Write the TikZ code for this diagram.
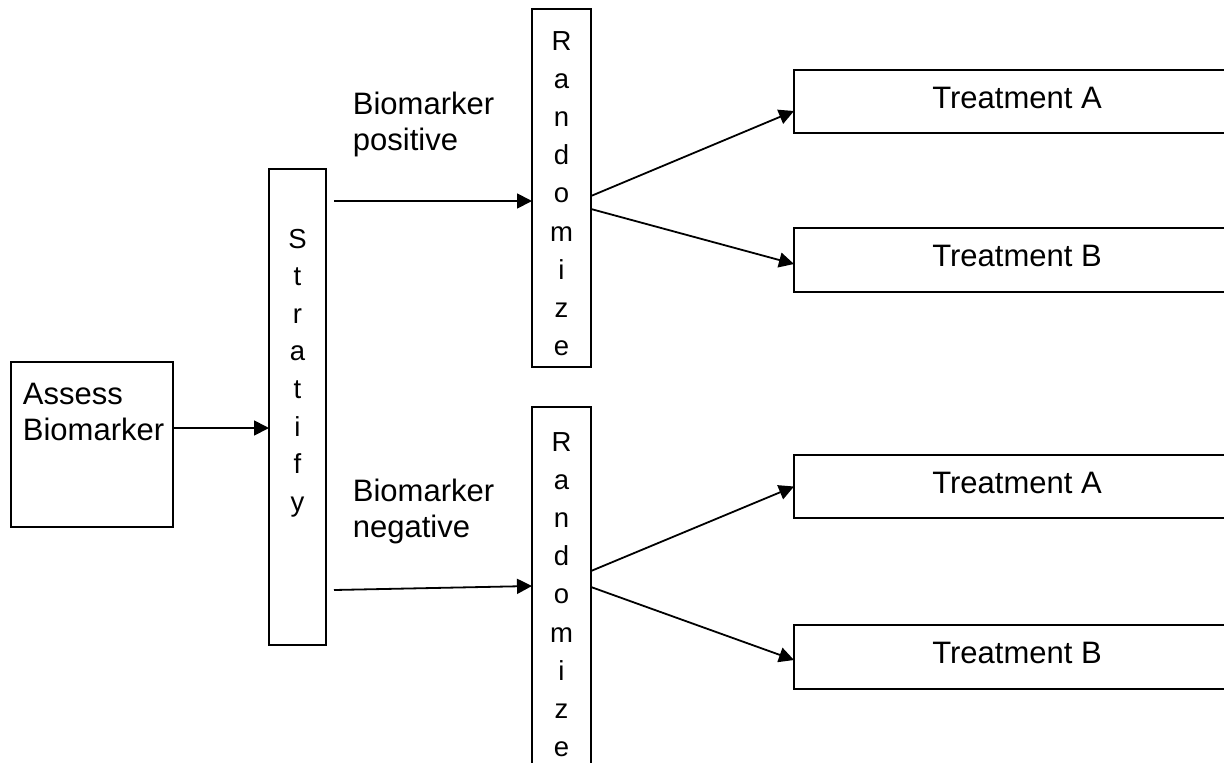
\documentclass[tikz,border=0pt]{standalone}
\usepackage{fontspec}
\setmainfont{Liberation Sans}
\usetikzlibrary{arrows.meta}
\begin{document}
\begin{tikzpicture}[x=1pt,y=-1pt, line width=1.8pt,
  box/.style={draw, line width=1.8pt, inner sep=0pt, outer sep=0pt, anchor=north west},
  lbl/.style={font=\fontsize{31}{36}\selectfont, inner sep=0pt, anchor=base west, align=left},
  tl/.style={font=\fontsize{31}{36}\selectfont, inner sep=0pt, anchor=base},
  vl/.style={font=\fontsize{27.5}{30}\selectfont, inner sep=0pt, anchor=base},
  arr/.style={-{Triangle[length=15pt,width=15pt]}, line width=1.8pt}]
\useasboundingbox (0,0) rectangle (1224,763);
\clip (0,0) rectangle (1224,763);
% boxes
\node[box, minimum width=162pt, minimum height=165pt] (assess) at (11,362) {};
\node[box, minimum width=57pt, minimum height=476pt] (strat) at (269,169) {};
\node[box, minimum width=59pt, minimum height=358pt] (rand1) at (532,9) {};
\node[box, minimum width=59pt, minimum height=420pt] (rand2) at (532,407) {};
\node[box, minimum width=460pt, minimum height=63pt] (ta1) at (794,70) {};
\node[box, minimum width=460pt, minimum height=64pt] (tb1) at (794,228) {};
\node[box, minimum width=460pt, minimum height=63pt] (ta2) at (794,455) {};
\node[box, minimum width=460pt, minimum height=64pt] (tb2) at (794,625) {};
% texts (base anchor = last line's baseline)
\node[lbl] (assesstxt) at (22,440) {Assess\\Biomarker};
\node[lbl] (pos) at (352,150) {Biomarker\\positive};
\node[lbl] (neg) at (352,537) {Biomarker\\negative};
\node[tl] (tatxt1) at (1017,108) {Treatment A};
\node[tl] (tbtxt1) at (1017,266) {Treatment B};
\node[tl] (tatxt2) at (1017,493) {Treatment A};
\node[tl] (tbtxt2) at (1017,663) {Treatment B};
\foreach \l [count=\i] in {S,t,r,a,t,i,f,y}
  \node[vl] (st\i) at (297.5,{248+37.6*(\i-1)}) {\l};
\foreach \l [count=\i] in {R,a,n,d,o,m,i,z,e}
  \node[vl] (ra\i) at (561.5,{50+38.2*(\i-1)}) {\l};
\foreach \l [count=\i] in {R,a,n,d,o,m,i,z,e}
  \node[vl] (rb\i) at (561.5,{451+38.2*(\i-1)}) {\l};
% connectors
\coordinate (a1) at ([yshift=16.5pt]assess.east);
\draw[arr] (a1) -- (a1 -| strat.west);
\coordinate (p1) at ([xshift=8pt,yshift=-32pt]strat.north east);
\draw[arr] (p1) -- (p1 -| rand1.west);
\coordinate (n1) at ([xshift=8pt,yshift=-421pt]strat.north east);
\draw[arr] (n1) -- ([yshift=-179pt]rand2.north west);
\draw[arr] ([yshift=-187pt]rand1.north east) -- ([yshift=-9.5pt]ta1.west);
\draw[arr] ([yshift=-200pt]rand1.north east) -- ([yshift=-4pt]tb1.west);
\draw[arr] ([yshift=-164pt]rand2.north east) -- (ta2.west);
\draw[arr] ([yshift=-180pt]rand2.north east) -- ([yshift=-3pt]tb2.west);
\end{tikzpicture}
\end{document}
